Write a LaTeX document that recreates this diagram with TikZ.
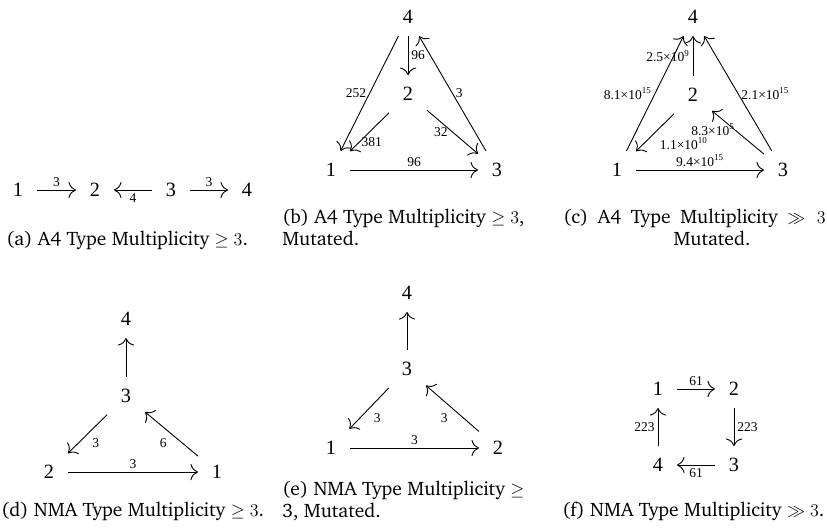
\documentclass[tikz,border=0pt]{standalone}
\usepackage[T1]{fontenc}
\usepackage{fontspec}
\setmainfont{Liberation Serif}
\usepackage{tikz}
\usetikzlibrary{arrows.meta}

\newcommand\capfont{\fontencoding{T1}\fontfamily{bch}\fontsize{13}{15}\selectfont}

\begin{document}
\begin{tikzpicture}[
    x=0.6667pt, y=-0.6667pt,
    vtx/.style={
        rectangle, minimum size=25pt, inner sep=0pt,
        font=\fontsize{13.5}{15}\selectfont
    },
    arr/.style={-{To[length=5pt, width=11pt]}, line width=0.6pt},
    lbl/.style={font=\fontsize{9}{10}\selectfont, inner sep=2pt},
    captxt/.style={font=\capfont, inner sep=0pt, anchor=base west},
]
\useasboundingbox (0,0) rectangle (827,527);

% (a) A4 type
\node[vtx] (a1) at (18,190) {1};
\node[vtx] (a2) at (95,190) {2};
\node[vtx] (a3) at (171,190) {3};
\node[vtx] (a4) at (247,190) {4};

\draw[arr] (a1) -- (a2) node[lbl, midway, above]{3};
\draw[arr] (a3) -- (a2) node[lbl, midway, below]{4};
\draw[arr] (a3) -- (a4) node[lbl, midway, above]{3};

\node[captxt] (capa) at (6,245) {(a) A4 Type Multiplicity $\geq 3$.};

% (b) A4 type, mutated
\node[vtx] (b4) at (408,17) {4};
\node[vtx] (b2) at (408,94) {2};
\node[vtx] (b1) at (331,170) {1};
\node[vtx] (b3) at (497,170) {3};

\draw[arr] (b4) -- (b1) node[lbl, midway, left]{252};
\draw[arr] (b4) -- (b2) node[lbl, midway, right]{96};
\draw[arr] (b2) -- (b1) node[lbl, pos=0.75, right, inner sep=1pt]{381};
\draw[arr] (b2) -- (b3) node[lbl, midway, left, inner sep=3pt]{32};
\draw[arr] (b3) -- (b4) node[lbl, midway, right]{3};
\draw[arr] (b1) -- (b3) node[lbl, midway, above]{96};

\node[captxt] (capb) at (282,223) {(b) A4 Type Multiplicity $\geq 3$,};
\node[captxt] (capb2) at (282,245) {Mutated.};

% (c) A4 type, large multiplicity
\node[vtx] (c4) at (693,17) {4};
\node[vtx] (c2) at (693,95) {2};
\node[vtx] (c1) at (617,170) {1};
\node[vtx] (c3) at (783,170) {3};

\draw[arr] (c2) -- (c4) node[lbl, midway, left]{2.5×10\textsuperscript{9}};
\draw[arr] (c1) -- (c4) node[lbl, midway, left]{8.1×10\textsuperscript{15}};
\draw[arr] (c3) -- (c4) node[lbl, midway, right]{2.1×10\textsuperscript{15}};
\draw[arr] (c2) -- (c1) node[lbl, midway, anchor=north west, inner sep=3pt]{1.1×10\textsuperscript{10}};
\draw[arr] (c3) -- (c2) node[lbl, midway, left, yshift=2pt]{8.3×10\textsuperscript{5}};
\draw[arr] (c1) -- (c3) node[lbl, midway, above]{9.4×10\textsuperscript{15}};

\node[captxt] (capc) at (563,223) {\makebox[175pt][s]{(c) A4 Type Multiplicity $\gg 3$}};
\node[captxt, anchor=base] (capc2) at (712,245) {Mutated.};

% (d) NMA type
\node[vtx] (d4) at (126,319) {4};
\node[vtx] (d3) at (126,396) {3};
\node[vtx] (d2) at (49,472) {2};
\node[vtx] (d1) at (217,472) {1};

\draw[arr] (d3) -- (d4);
\draw[arr] (d3) -- (d2) node[lbl, midway, anchor=north west, inner sep=3pt]{3};
\draw[arr] (d1) -- (d3) node[lbl, midway, anchor=north east, inner sep=3pt]{6};
\draw[arr] (d2) -- (d1) node[lbl, midway, above]{3};

\node[captxt] (capd) at (1,516) {(d) NMA Type Multiplicity $\geq 3$.};

% (e) NMA type, mutated
\node[vtx] (e4) at (407,293) {4};
\node[vtx] (e3) at (407,369) {3};
\node[vtx] (e1) at (331,448) {1};
\node[vtx] (e2) at (498,448) {2};

\draw[arr] (e3) -- (e4);
\draw[arr] (e3) -- (e1) node[lbl, midway, anchor=north west, inner sep=3pt]{3};
\draw[arr] (e2) -- (e3) node[lbl, midway, anchor=north east, inner sep=3pt]{3};
\draw[arr] (e1) -- (e2) node[lbl, midway, above]{3};

\node[captxt] (cape) at (282,495) {(e) NMA Type Multiplicity $\geq$};
\node[captxt] (cape2) at (282,517) {3, Mutated.};

% (f) NMA type, large multiplicity
\node[vtx] (f1) at (658,389) {1};
\node[vtx] (f2) at (734,389) {2};
\node[vtx] (f4) at (658,465) {4};
\node[vtx] (f3) at (734,465) {3};

\draw[arr] (f1) -- (f2) node[lbl, midway, above]{61};
\draw[arr] (f2) -- (f3) node[lbl, midway, right]{223};
\draw[arr] (f3) -- (f4) node[lbl, midway, below]{61};
\draw[arr] (f4) -- (f1) node[lbl, midway, left]{223};

\node[captxt] (capf) at (562,516) {(f) NMA Type Multiplicity $\gg 3$.};

\end{tikzpicture}
\end{document}
